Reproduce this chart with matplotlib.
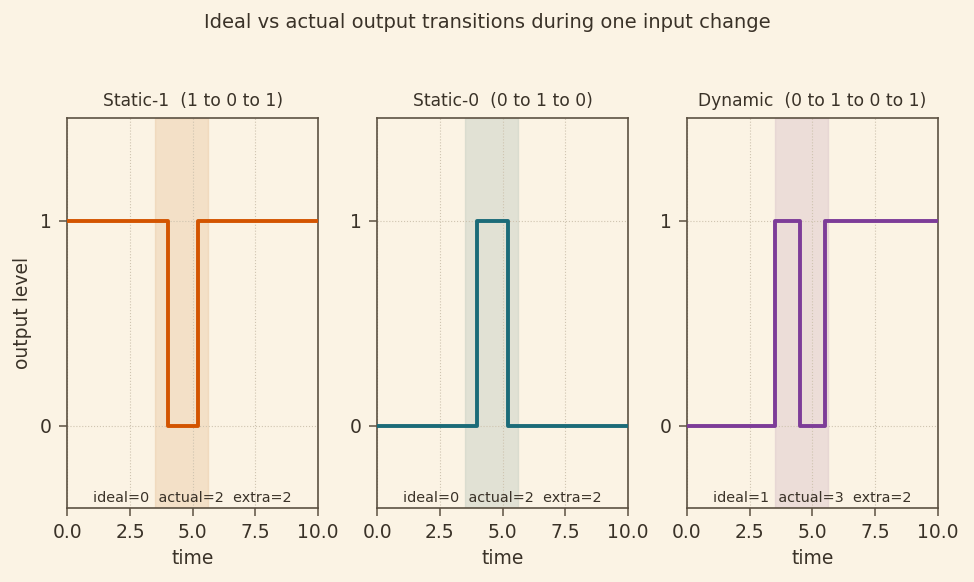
import matplotlib
matplotlib.use("Agg")
import matplotlib.pyplot as plt

# step waveforms: time of each level change and the level after it
titles = ["Static-1  (1 to 0 to 1)", "Static-0  (0 to 1 to 0)", "Dynamic  (0 to 1 to 0 to 1)"]
times = [
    [0.0, 4.0, 5.2, 10.0],
    [0.0, 4.0, 5.2, 10.0],
    [0.0, 3.5, 4.5, 5.5, 10.0],
]
levels = [
    [1, 0, 1, 1],
    [0, 1, 0, 0],
    [0, 1, 0, 1, 1],
]
ideal = [0, 0, 1]
actual = [2, 2, 3]
extra = [2, 2, 2]
window = (3.5, 5.6)

colors = ["#d35400", "#1b6b78", "#7d3c98"]
span_colors = ["#e8c7a0", "#bfc9bf", "#d8c0c8"]
bg = "#fbf3e4"
ink = "#3a3228"
spine_c = "#5c5142"

plt.rcParams.update({
    "font.family": "DejaVu Sans",
    "text.color": ink,
    "axes.labelcolor": ink,
    "xtick.color": ink,
    "ytick.color": ink,
})

fig, axes = plt.subplots(1, 3, figsize=(9.74, 5.82), dpi=100, facecolor=bg)
fig.subplots_adjust(left=0.069, right=0.963, top=0.797, bottom=0.127, wspace=0.235)

for i, ax in enumerate(axes):
    ax.set_facecolor(bg)
    ax.axvspan(window[0], window[1], color=span_colors[i], alpha=0.42, lw=1.0, zorder=1)
    ax.step(times[i], levels[i], where="post", color=colors[i], lw=2.8, zorder=3)
    ax.set_xlim(0, 10)
    ax.set_ylim(-0.4, 1.5)
    ax.set_xticks([0, 2.5, 5, 7.5, 10])
    ax.set_yticks([0, 1])
    ax.tick_params(labelsize=13.5, length=6, width=1.1, color=spine_c, pad=5)
    ax.grid(True, linestyle=":", color="#cfc4b0", lw=0.8, zorder=0)
    for s in ax.spines.values():
        s.set_color(spine_c)
        s.set_linewidth(1.2)
    ax.set_title(titles[i], fontsize=12.3, pad=9)
    ax.set_xlabel("time", fontsize=13.5, labelpad=5)
    ax.text(0.5, 0.008, f"ideal={ideal[i]}  actual={actual[i]}  extra={extra[i]}",
            transform=ax.transAxes, ha="center", va="bottom", fontsize=10.4, zorder=4)

axes[0].set_ylabel("output level", fontsize=13.5, labelpad=6)
fig.suptitle("Ideal vs actual output transitions during one input change", fontsize=14, y=0.978)

fig.savefig("out.png", facecolor=bg)
